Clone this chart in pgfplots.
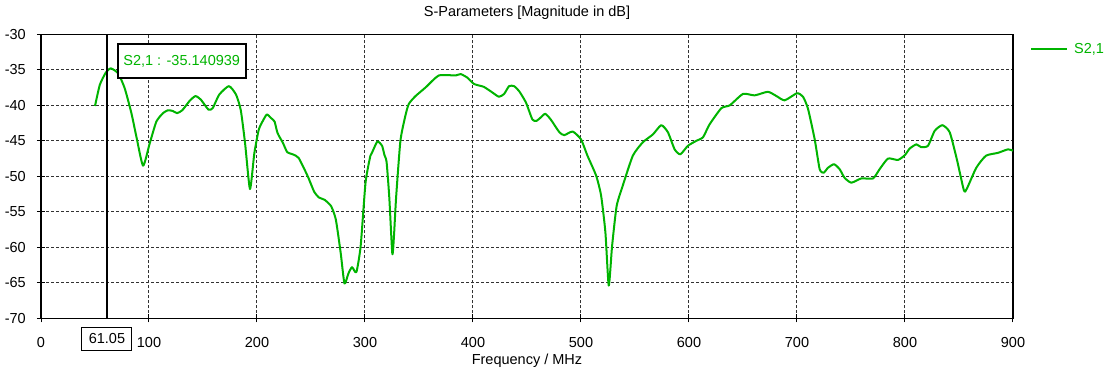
\documentclass[border=0pt]{standalone}
\usepackage{fontspec}
\setmainfont{Liberation Sans}
\usepackage{pgfplots}
\pgfplotsset{compat=1.18}
\definecolor{sgreen}{RGB}{0,180,0}
\definecolor{gridgray}{RGB}{50,50,50}

\begin{document}
\fontsize{14.5}{17}\selectfont
\begin{tikzpicture}
\useasboundingbox (-41pt,-53.7pt) rectangle (1068pt,318.3pt);
\begin{axis}[
    scale only axis,
    width=972pt, height=284pt,
    xmin=0, xmax=900, ymin=-70, ymax=-30,
    clip=false,
    axis line style={black, line width=1.3pt},
    xtick={0,100,200,300,400,500,600,700,800,900},
    xticklabels={0,100,200,300,400,500,600,700,800,900},
    ytick={-70,-65,-60,-55,-50,-45,-40,-35,-30},
    yticklabels={-70,-65,-60,-55,-50,-45,-40,-35,-30},
    xtick pos=lower, ytick pos=left,
    tick align=center,
    major tick length=8pt,
    tick style={black, line width=1pt},
    xticklabel style={anchor=north, inner sep=0pt, yshift=-15pt},
    yticklabel style={anchor=east, inner sep=0pt, xshift=-11pt},
    grid=major,
    grid style={gridgray, line width=1pt, dash pattern=on 3pt off 2pt},
    title={S-Parameters [Magnitude in dB]},
    title style={at={(0.5,1)}, anchor=base, yshift=11.8pt, inner sep=0pt},
    xlabel={Frequency / MHz},
    xlabel style={at={(0.5,0)}, anchor=north, yshift=-35pt, inner sep=0pt},
    legend style={at={(1,1)}, anchor=north west, xshift=17pt, yshift=-8.7pt,
        draw=none, fill=none, inner sep=0pt, nodes={inner sep=0pt}},
    legend image code/.code={\draw[#1] (0pt,0pt) -- (36pt,0pt); \path (42pt,0pt);},
]
\addplot[sgreen, line width=2pt, line join=round, smooth, tension=0.35] coordinates {
(50,-40.1) (54.5,-37.1) (60,-35.4) (64.6,-34.8) (71.4,-35.5) (77.5,-37.6)
(83.7,-41.1) (88.3,-44.4) (94.5,-48.5) (100.6,-45.4) (106.8,-42.3) (113,-41.1)
(117.5,-40.7) (122,-40.8) (126,-41.1) (130.8,-40.7) (137.5,-39.4) (143,-38.7)
(148,-39.2) (155,-40.6) (159,-40.4) (165,-38.5) (174,-37.3) (180.6,-38.5)
(185,-40.7) (189,-45.4) (193.5,-51.8) (197.5,-46.8) (201.5,-43.5) (204,-42.6)
(209,-41.3) (213,-41.8) (216.3,-42.3) (219,-43.9) (224,-45.3) (228,-46.6)
(233,-46.9) (238.5,-47.4) (247,-50) (253,-52.2) (257.5,-53) (262.5,-53.3)
(268.6,-54.2) (273,-56.1) (277.5,-60.8) (281,-65.1) (284.6,-63.7) (288,-62.8)
(292,-63.5) (296,-59.8) (300.5,-50.9) (305,-47.1) (307,-46.5) (311.5,-45.1)
(315.8,-45.7) (318,-47) (320,-48) (322.5,-53) (325.3,-60.9) (326.8,-58.5)
(328.8,-53) (332.8,-45) (337.5,-41.4) (340.6,-39.8) (346.8,-38.7) (356,-37.5)
(368.4,-35.8) (383.9,-35.8) (388.5,-35.6) (394.7,-36.1) (401,-37) (410,-37.4)
(418,-38.2) (424,-38.8) (428.8,-38.4) (433.4,-37.3) (438,-37.3) (442.7,-38)
(449,-39.6) (455,-42) (458.8,-42.2) (462.8,-41.7) (466.9,-41.2) (472,-42)
(480,-43.8) (484.5,-44.2) (492.3,-43.7) (500,-44.8) (506,-47.1) (514,-49.9)
(518.6,-52.7) (522.6,-57.9) (525.7,-65.4) (528.8,-59.8) (533,-54.2) (538.7,-51.3)
(548,-47.1) (557.3,-45.2) (566.6,-44.1) (574.3,-42.8) (580.5,-43.8) (586.7,-46.2)
(592,-46.9) (599,-45.7) (606.8,-45) (613,-44.5) (619,-42.7) (630,-40.4)
(637.8,-40) (650,-38.4) (660.8,-38.6) (673,-38.1) (681,-38.7) (688.6,-39.3)
(700,-38.3) (705.6,-38.8) (710.2,-40.5) (716.4,-44.8) (721,-49) (724.7,-49.5)
(728.7,-48.8) (734.3,-48.3) (739.5,-49) (744,-50.2) (750.3,-50.9) (759.6,-50.3)
(770.4,-50.3) (776.5,-49) (784.3,-47.5) (793.5,-47.7) (800,-47) (804.3,-46.1)
(810.5,-45.5) (815,-45.9) (821.3,-45.7) (827.5,-43.6) (834.6,-42.8) (841.4,-43.8)
(848,-47.6) (854.6,-52) (857.4,-51.7) (866,-48.8) (875,-47.1) (886,-46.7)
(895.4,-46.2) (900,-46.4)
};
\addlegendentry{\textcolor{sgreen}{S2,1}}
% marker line
\addplot[black, line width=2.5pt, forget plot] coordinates {(61.05,-70) (61.05,-30)};
\node[draw=black, line width=2pt, fill=white, text=sgreen, minimum width=128pt,
    minimum height=34pt, inner sep=0pt, anchor=north west]
    at (rel axis cs:0.0779,0.968) {S2,1 : -35.140939};
\node[draw=black, line width=1pt, fill=white, minimum width=50pt,
    minimum height=23pt, inner sep=0pt, yshift=-20.4pt]
    at (axis cs:61.05,-70) {61.05};
\end{axis}
\end{tikzpicture}
\end{document}
